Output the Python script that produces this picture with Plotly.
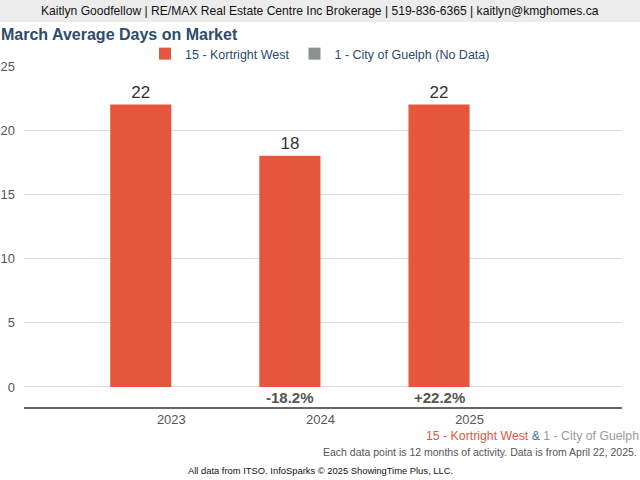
import plotly.graph_objects as go

# chart data
years = ["2023", "2024", "2025"]
kortright_days = [22, 18, 22]
guelph_days = [None, None, None]  # no data for this area
pct_change = ["", "-18.2%", "+22.2%"]
y_ticks = [0, 5, 10, 15, 20, 25]

RED = "#e4573d"
GREY = "#8a918f"
NAVY = "#2c4b6d"
FONT = "Liberation Sans, Arial, sans-serif"

# plot area in pixels: left 24, right 622, top 66, bottom 407
W, H = 640, 480
L, R, T, B = 24, 18, 66, 73


def px(x):
    return (x - L) / (W - L - R)


def py(y):
    return (H - B - y) / (H - T - B)


fig = go.Figure()

fig.add_trace(go.Bar(
    x=years, y=kortright_days,
    name="15 - Kortright West",
    marker=dict(color=RED, line=dict(width=0)),
    text=kortright_days, textposition="outside",
    textfont=dict(size=17, color="#333333"),
    cliponaxis=False,
))
fig.add_trace(go.Bar(
    x=years, y=guelph_days,
    name="1 - City of Guelph (No Data)",
    marker=dict(color=GREY, line=dict(width=0)),
))

# year-over-year change under each bar (bar sits in left half of its group)
for i, pct in enumerate(pct_change):
    if pct:
        fig.add_annotation(x=i - 0.205, y=-0.85, xref="x", yref="y",
                           text="<b>" + pct + "</b>",
                           showarrow=False, xanchor="center", yanchor="middle",
                           font=dict(size=15, color="#555555"))

# header band
fig.add_shape(type="rect", xref="paper", yref="paper",
              x0=px(0), x1=px(W), y0=py(22), y1=py(0),
              fillcolor="#ececec", line=dict(width=0), layer="below")
fig.add_annotation(xref="paper", yref="paper", x=px(320), y=py(11),
                   text="Kaitlyn Goodfellow | RE/MAX Real Estate Centre Inc Brokerage | 519-836-6365 | kaitlyn@kmghomes.ca",
                   showarrow=False, xanchor="center", yanchor="middle",
                   font=dict(size=12.1, color="#111111"))

fig.add_annotation(xref="paper", yref="paper", x=px(-1), y=py(34),
                   text="<b>March Average Days on Market</b>",
                   showarrow=False, xanchor="left", yanchor="middle",
                   font=dict(size=16, color=NAVY))

fig.add_annotation(xref="paper", yref="paper", x=px(641), y=py(436),
                   text=("<span style='color:%s'>15 - Kortright West</span> "
                         "<span style='color:#3d6a9a'>&amp;</span> "
                         "<span style='color:#9a9a9a'>1 - City of Guelph</span>") % RED,
                   showarrow=False, xanchor="right", yanchor="middle",
                   font=dict(size=12.3))
fig.add_annotation(xref="paper", yref="paper", x=px(639), y=py(452),
                   text="Each data point is 12 months of activity. Data is from April 22, 2025.",
                   showarrow=False, xanchor="right", yanchor="middle",
                   font=dict(size=10.5, color="#555555"))
fig.add_annotation(xref="paper", yref="paper", x=px(320), y=py(470),
                   text="All data from ITSO. InfoSparks © 2025 ShowingTime Plus, LLC.",
                   showarrow=False, xanchor="center", yanchor="middle",
                   font=dict(size=9.4, color="#111111"))

fig.update_layout(
    width=W, height=H,
    margin=dict(l=L, r=R, t=T, b=B),
    paper_bgcolor="white", plot_bgcolor="white",
    font=dict(family=FONT),
    barmode="group", bargap=0.18, bargroupgap=0,
    legend=dict(orientation="h", x=px(320), y=py(54), xanchor="center", yanchor="middle",
                font=dict(size=12.5, color=NAVY), bgcolor="rgba(0,0,0,0)"),
    xaxis=dict(type="category", range=[-0.988, 3.022], showgrid=False,
               showline=True, linecolor="#666666", linewidth=1.5,
               automargin=False,
               ticks="", tickfont=dict(size=13, color="#555555")),
    yaxis=dict(range=[-1.56, 25], tickvals=y_ticks, showgrid=True,
               gridcolor="#dcdcdc", zeroline=False, showline=False,
               automargin=False, ticks="", ticklabelstandoff=8,
               tickfont=dict(size=13, color="#555555")),
)

fig.write_html("out.html", config={"displayModeBar": False},
               post_script="document.body.style.margin='0';")
